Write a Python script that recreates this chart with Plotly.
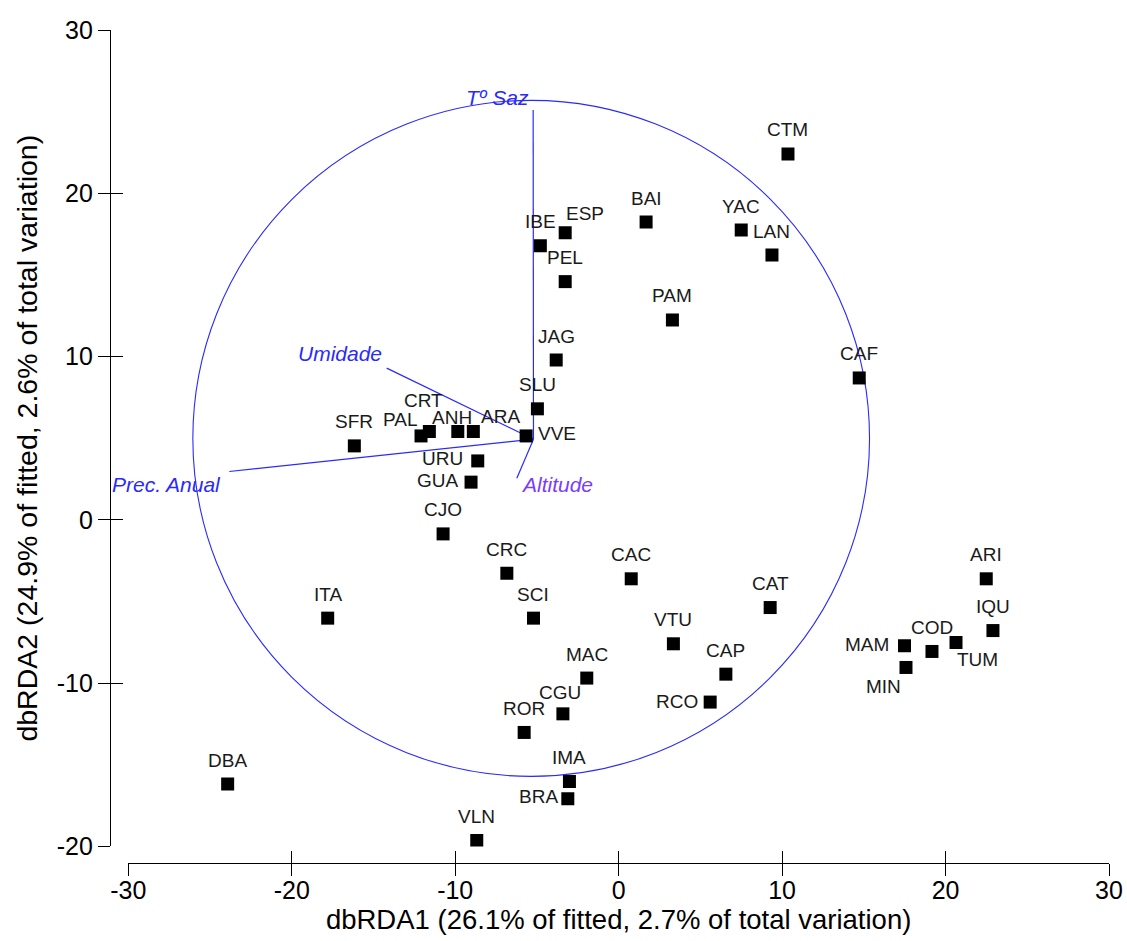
import plotly.graph_objects as go

# ---------------- data ----------------
sites = ["CTM", "BAI", "YAC", "LAN", "ESP", "IBE", "PEL", "PAM", "CAF", "JAG",
         "SLU", "VVE", "ARA", "ANH", "CRT", "PAL", "SFR", "URU", "GUA", "CJO",
         "CRC", "CAC", "CAT", "SCI", "ITA", "VTU", "CAP", "MAC", "RCO", "CGU",
         "ROR", "IMA", "BRA", "VLN", "DBA", "ARI", "IQU", "COD", "TUM", "MAM", "MIN"]
dbrda1 = [10.36, 1.68, 7.50, 9.38, -3.27, -4.79, -3.27, 3.29, 14.72, -3.82,
          -4.97, -5.66, -8.89, -9.84, -11.58, -12.09, -16.17, -8.62, -9.03, -10.74,
          -6.84, 0.77, 9.27, -5.21, -17.80, 3.35, 6.56, -1.95, 5.60, -3.41,
          -5.78, -3.01, -3.11, -8.68, -23.92, 22.49, 22.90, 19.17, 20.64, 17.49, 17.58]
dbrda2 = [22.41, 18.24, 17.75, 16.22, 17.59, 16.79, 14.59, 12.24, 8.69, 9.79,
          6.80, 5.14, 5.41, 5.41, 5.41, 5.14, 4.53, 3.61, 2.31, -0.86,
          -3.27, -3.61, -5.37, -6.02, -6.02, -7.59, -9.45, -9.69, -11.16, -11.88,
          -13.02, -16.02, -17.08, -19.63, -16.18, -3.61, -6.78, -8.06, -7.51, -7.71, -9.04]

vec_names = ["Tº Saz", "Umidade", "Prec. Anual", "Altitude"]
vec_x = [-5.23, -14.19, -23.82, -6.23]
vec_y = [25.10, 9.29, 2.96, 2.55]
vec_origin_x = -5.21
vec_origin_y = 4.94

circle_cx = -5.35
circle_cy = 4.99
circle_r = 20.7

x_ticks = [-30, -20, -10, 0, 10, 20, 30]
x_tick_labels = ["-30", "-20", "-10", "0", "10", "20", "30"]
y_ticks = [-20, -10, 0, 10, 20, 30]
y_tick_labels = ["-20", "-10", "0", "10", "20", "30"]
x_title = "dbRDA1 (26.1% of fitted, 2.7% of total variation)"
y_title = "dbRDA2 (24.9% of fitted, 2.6% of total variation)"

# ---------------- styling ----------------
FONT = "Liberation Sans, Arial, sans-serif"
BLUE = "#2a2aff"
label_offsets = {  # pixel shifts (dx, dy up) of labels relative to marker
    "ESP": (20, 19), "VVE": (31, 2), "ARA": (27, 15), "ANH": (-6, 14),
    "CRT": (-6, 31), "PAL": (-21, 16), "URU": (-35, 2), "GUA": (-33, 2),
    "RCO": (-33, 1), "CGU": (-3, 21), "BRA": (-29, 2), "TUM": (21, -17),
    "MAM": (-38, 1), "MIN": (-22, -19),
}
default_offset = (0, 24)
vec_label_offsets = {"Tº Saz": (-36, 13), "Umidade": (-47, 15),
                     "Prec. Anual": (-63, -13), "Altitude": (40, -6)}
vec_label_colors = {"Altitude": "#7a3cff"}

fig = go.Figure()

# vectors
for name, vx, vy in zip(vec_names, vec_x, vec_y):
    fig.add_trace(go.Scatter(x=[vec_origin_x, vx], y=[vec_origin_y, vy], mode="lines",
                             line=dict(color=BLUE, width=1.2), hoverinfo="skip",
                             showlegend=False))

# points
fig.add_trace(go.Scatter(x=dbrda1, y=dbrda2, mode="markers",
                         marker=dict(symbol="square", size=13, color="black"),
                         text=sites, showlegend=False))

# invisible trace for overlay axes (second half of the crossing ticks)
fig.add_trace(go.Scatter(x=dbrda1, y=dbrda2, mode="markers", xaxis="x2", yaxis="y2",
                         marker=dict(opacity=0), hoverinfo="skip", showlegend=False))

# circle
fig.add_shape(type="circle", xref="x", yref="y",
              x0=circle_cx - circle_r, x1=circle_cx + circle_r,
              y0=circle_cy - circle_r, y1=circle_cy + circle_r,
              line=dict(color=BLUE, width=1.1), layer="below")

annotations = []
for s, x, y in zip(sites, dbrda1, dbrda2):
    dx, dy = label_offsets.get(s, default_offset)
    annotations.append(dict(x=x, y=y, xref="x", yref="y", text=s, showarrow=False,
                            xshift=dx, yshift=dy, xanchor="center", yanchor="middle",
                            font=dict(family=FONT, size=19, color="#1a1a1a")))
for name, vx, vy in zip(vec_names, vec_x, vec_y):
    dx, dy = vec_label_offsets[name]
    annotations.append(dict(x=vx, y=vy, xref="x", yref="y",
                            text="<i>" + name + "</i>", showarrow=False,
                            xshift=dx, yshift=dy, xanchor="center", yanchor="middle",
                            font=dict(family=FONT, size=21,
                                      color=vec_label_colors.get(name, BLUE))))

x_dom = [0.0183, 1.0]
y_dom = [0.0199, 1.0]
x_range = [-30, 30]
y_range = [-20, 30]

common = dict(showgrid=False, zeroline=False, ticklen=12, tickwidth=1.3,
              tickcolor="black", anchor="free", position=0, automargin=False)

fig.update_layout(
    width=1127, height=941,
    margin=dict(l=110, r=18, t=30, b=78),
    paper_bgcolor="white", plot_bgcolor="white",
    font=dict(family=FONT, color="black"),
    annotations=annotations,
    xaxis=dict(domain=x_dom, range=x_range, tickvals=x_ticks, ticktext=x_tick_labels,
               ticks="inside", showline=True, linecolor="black", linewidth=1.3,
               tickfont=dict(size=25, color="black"), ticklabelstandoff=5,
               title=dict(text=x_title, font=dict(size=27.5, color="black"), standoff=6),
               **common),
    yaxis=dict(domain=y_dom, range=y_range, tickvals=y_ticks, ticktext=y_tick_labels,
               ticks="outside", showline=True, linecolor="black", linewidth=1.3,
               tickfont=dict(size=25, color="black"),
               title=dict(text=y_title, font=dict(size=28.5, color="black"), standoff=9),
               **common),
    xaxis2=dict(overlaying="x", domain=x_dom, range=x_range, tickvals=x_ticks,
                ticks="outside", showticklabels=False, showline=False, **common),
    yaxis2=dict(overlaying="y", domain=y_dom, range=y_range, tickvals=y_ticks,
                ticks="inside", showticklabels=False, showline=False, side="left",
                **common),
)

fig.write_html("out.html", config={"displayModeBar": False},
               post_script="document.body.style.margin='0';document.body.style.padding='0';")
